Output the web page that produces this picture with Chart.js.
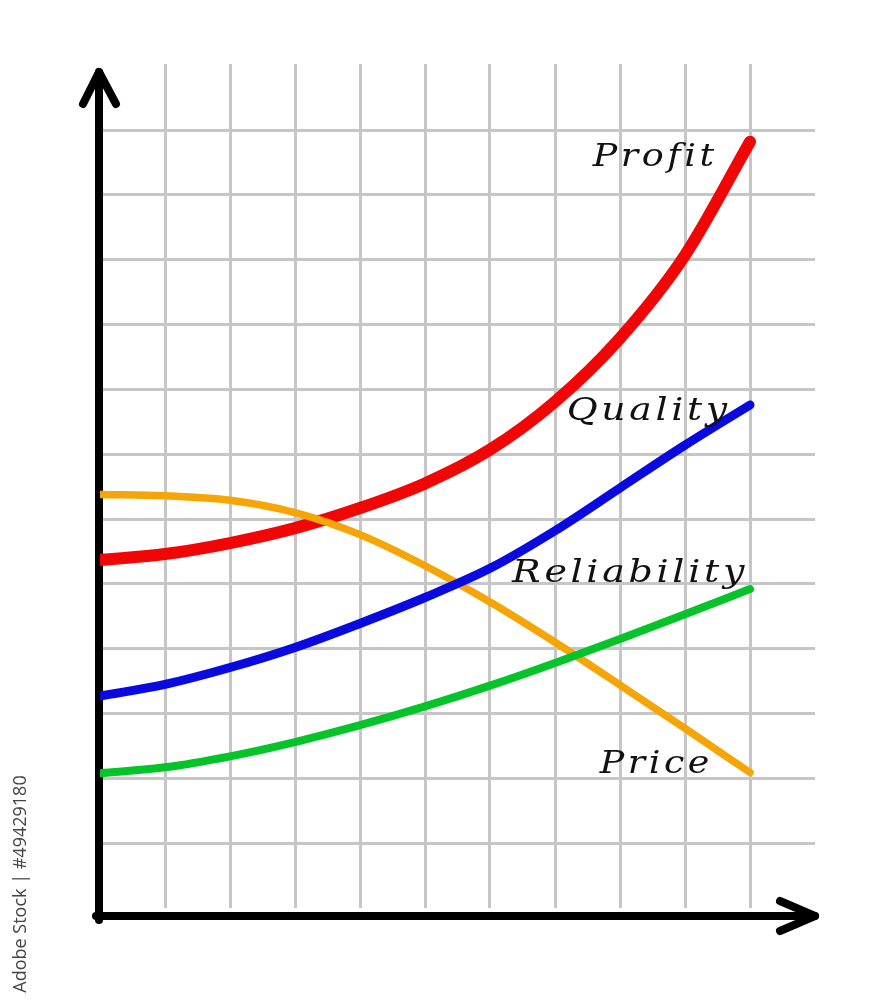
<!DOCTYPE html>
<html>
<head>
<meta charset="utf-8">
<script src="https://cdn.jsdelivr.net/npm/chart.js@4/dist/chart.umd.min.js"></script>
<style>
  html, body { margin: 0; padding: 0; background: #fff; }
  #wrap { width: 880px; height: 1000px; position: relative; }
</style>
</head>
<body>
<div id="wrap"><canvas id="c"></canvas></div>
<script>
// grid steps along the x axis (0 = y axis, 10 = last vertical line)
const steps = [0, 1, 2, 3, 4, 5, 6, 7, 8, 9, 10];

// values, in grid units
const profit      = [5.37, 5.46, 5.63, 5.86, 6.17, 6.55, 7.07, 7.81, 8.79, 10.07, 11.82];
const quality     = [3.27, 3.45, 3.71, 4.02, 4.39, 4.79, 5.24, 5.82, 6.48, 7.14, 7.76];
const reliability = [2.08, 2.17, 2.34, 2.56, 2.82, 3.11, 3.43, 3.78, 4.15, 4.53, 4.92];
const price       = [6.38, 6.36, 6.29, 6.10, 5.76, 5.28, 4.72, 4.10, 3.44, 2.77, 2.09];

const seriesNames = ['Profit', 'Quality', 'Reliability', 'Price'];
const xGrid = [1, 2, 3, 4, 5, 6, 7, 8, 9, 10];
const yGrid = [1, 2, 3, 4, 5, 6, 7, 8, 9, 10, 11, 12];

const pts = arr => arr.map((v, i) => ({ x: steps[i], y: v }));

const line = (label, arr, color, width) => ({
    label: label,
    data: pts(arr),
    borderColor: color,
    borderWidth: width,
    borderCapStyle: 'round',
    borderJoinStyle: 'round',
    pointRadius: 0,
    cubicInterpolationMode: 'monotone',
    fill: false
});

// hand-written looking labels, placed in grid units
const labelSpots = {
    'Profit':      { x: 7.58, y: 11.44, w: 125 },
    'Quality':     { x: 7.18, y: 7.53,  w: 164 },
    'Reliability': { x: 6.34, y: 5.03,  w: 236 },
    'Price':       { x: 7.69, y: 2.08,  w: 113 }
};

const decorPlugin = {
    id: 'decor',
    beforeDatasetsDraw(chart) {
        const ctx = chart.ctx;
        const xs = chart.scales.x, ys = chart.scales.y;
        const x0 = xs.getPixelForValue(0) - 1;
        const yb = ys.getPixelForValue(0) + 8;
        ctx.save();
        ctx.strokeStyle = '#000';
        ctx.lineWidth = 8;
        ctx.lineCap = 'round';
        ctx.lineJoin = 'round';
        // y axis with arrow
        ctx.beginPath();
        ctx.moveTo(x0, yb + 4);
        ctx.lineTo(x0, 72);
        ctx.stroke();
        ctx.beginPath();
        ctx.moveTo(x0 - 16, 104);
        ctx.lineTo(x0, 72);
        ctx.lineTo(x0 + 17, 104);
        ctx.stroke();
        // x axis with arrow
        const xr = xs.getPixelForValue(11);
        ctx.beginPath();
        ctx.moveTo(x0 - 3, yb);
        ctx.lineTo(xr, yb);
        ctx.stroke();
        ctx.beginPath();
        ctx.moveTo(xr - 35, yb - 15);
        ctx.lineTo(xr, yb);
        ctx.lineTo(xr - 35, yb + 15);
        ctx.stroke();
        ctx.restore();
    },
    afterDatasetsDraw(chart) {
        const ctx = chart.ctx;
        const xs = chart.scales.x, ys = chart.scales.y;
        ctx.fillStyle = '#111';
        ctx.textAlign = 'left';
        ctx.textBaseline = 'alphabetic';
        chart.data.datasets.forEach(ds => {
            const spot = labelSpots[ds.label];
            const t = ds.label;
            ctx.save();
            ctx.font = 'italic 31px "DejaVu Serif"';
            ctx.letterSpacing = '3px';
            const raw = ctx.measureText(t).width;
            const k = spot.w / raw;
            ctx.translate(xs.getPixelForValue(spot.x), ys.getPixelForValue(spot.y));
            ctx.scale(k, 1);
            ctx.fillText(t, 0, 0);
            ctx.restore();
        });

        // stock credit along the left edge
        ctx.save();
        ctx.translate(21, 884);
        ctx.rotate(-Math.PI / 2);
        ctx.fillStyle = '#444';
        ctx.font = '18px "Open Sans"';
        ctx.textAlign = 'center';
        ctx.textBaseline = 'middle';
        ctx.fillText('Adobe Stock | #49429180', 0, 0);
        ctx.restore();
    }
};

document.addEventListener('DOMContentLoaded', () => {
    const ctx = document.getElementById('c').getContext('2d');

    new Chart(ctx, {
        type: 'line',
        data: {
            datasets: [
                line(seriesNames[1], quality, '#0a0ae0', 9),
                line(seriesNames[2], reliability, '#05c42a', 8),
                line(seriesNames[3], price, '#f5a505', 7.5),
                line(seriesNames[0], profit, '#f20505', 12)
            ]
        },
        options: {
            responsive: true,
            maintainAspectRatio: false,
            animation: false,
            layout: { padding: { left: 100, right: 65, top: 64, bottom: 92 } },
            plugins: { legend: { display: false }, tooltip: { enabled: false } },
            scales: {
                x: {
                    type: 'linear',
                    min: 0,
                    max: 11,
                    afterBuildTicks: s => { s.ticks = xGrid.map(v => ({ value: v })); },
                    ticks: { display: false },
                    border: { display: false },
                    grid: { color: '#c6c6c6', lineWidth: 3, drawTicks: false }
                },
                y: {
                    type: 'linear',
                    min: 0,
                    max: 13.02,
                    afterBuildTicks: s => { s.ticks = yGrid.map(v => ({ value: v })); },
                    ticks: { display: false },
                    border: { display: false },
                    grid: { color: '#c6c6c6', lineWidth: 3, drawTicks: false }
                }
            }
        },
        plugins: [decorPlugin]
    });
});
</script>
</body>
</html>
